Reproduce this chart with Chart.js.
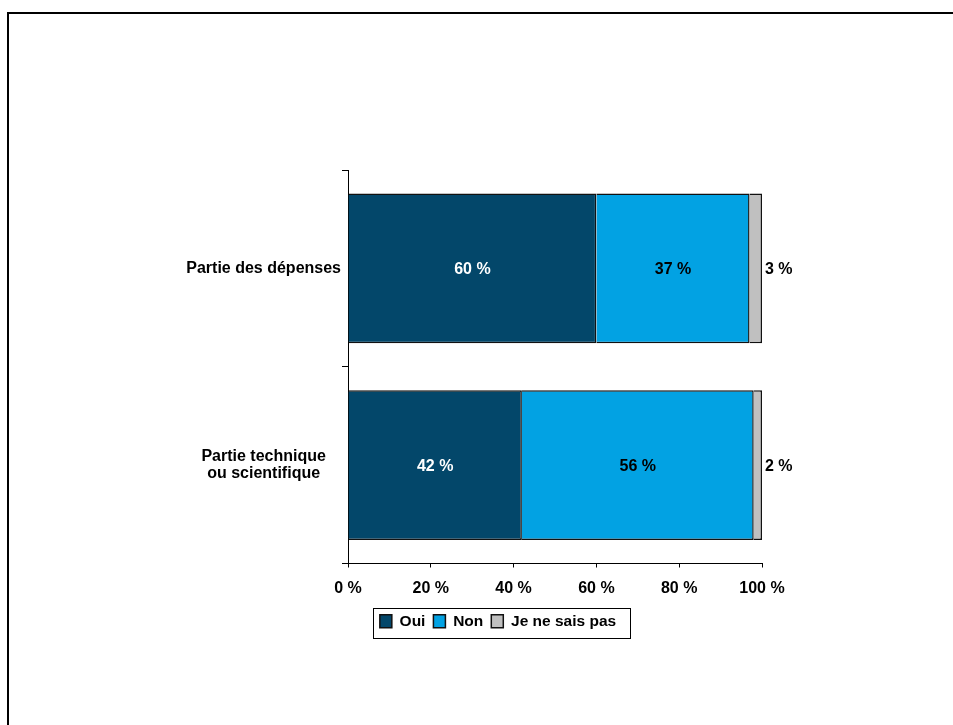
<!DOCTYPE html>
<html>
<head>
<meta charset="utf-8">
<script src="https://cdn.jsdelivr.net/npm/chart.js@4"></script>
<style>
  html, body { margin: 0; padding: 0; background: #fff; overflow: hidden; }
  #frame {
    position: absolute; left: 7px; top: 12px; width: 2000px; height: 2000px;
    border-top: 2px solid #000; border-left: 2px solid #000;
  }
  #wrap { position: absolute; left: 0; top: 0; width: 953px; height: 725px; }
</style>
</head>
<body>
<div id="frame"></div>
<div id="wrap"><canvas id="bar_chart"></canvas></div>
<script>
const categories = ['Partie des dépenses', ['Partie technique', 'ou scientifique']];
const oui = [60, 42];
const non = [37, 56];
const nsp = [3, 2];
const seriesNames = ['Oui', 'Non', 'Je ne sais pas'];

const FONT = '"Liberation Sans", Arial, sans-serif';

// percentage text on each segment, the small one goes outside the bar
const valueLabels = {
    id: 'valueLabels',
    afterDatasetsDraw(chart) {
        const ctx = chart.ctx;
        ctx.save();
        ctx.font = 'bold 16px ' + FONT;
        ctx.textBaseline = 'middle';
        chart.data.datasets.forEach((ds, i) => {
            chart.getDatasetMeta(i).data.forEach((bar, j) => {
                const txt = ds.data[j] + ' %';
                if (i === 2) {
                    ctx.textAlign = 'left';
                    ctx.fillStyle = '#000';
                    ctx.fillText(txt, bar.x + 3, bar.y + 1);
                } else {
                    ctx.textAlign = 'center';
                    ctx.fillStyle = i === 0 ? '#fff' : '#000';
                    ctx.fillText(txt, (bar.x + bar.base) / 2, bar.y + 1);
                }
            });
        });
        ctx.restore();
    }
};

// move the legend a bit right/down and put a box around it
const legendBox = {
    id: 'legendBox',
    afterLayout(chart) {
        const lg = chart.legend;
        const dx = 498 - (lg.left + lg.right) / 2;
        lg.left += dx;
        lg.right += dx;
        lg.top += 2;
        lg.bottom += 2;
    },
    afterDraw(chart) {
        const boxes = chart.legend.legendHitBoxes;
        if (!boxes || !boxes.length) return;
        const l = Math.min(...boxes.map(b => b.left));
        const r = Math.max(...boxes.map(b => b.left + b.width));
        const t = Math.min(...boxes.map(b => b.top));
        const b = Math.max(...boxes.map(b => b.top + b.height));
        const ctx = chart.ctx;
        ctx.save();
        ctx.strokeStyle = '#000';
        ctx.lineWidth = 1;
        ctx.strokeRect(Math.round(l - 7) + 0.5, Math.round(t - 6) + 0.5, Math.round(r - l + 21), Math.round(b - t + 14));
        ctx.restore();
    }
};

const data = {
    labels: categories,
    datasets: [
        { label: seriesNames[0], data: oui, backgroundColor: '#03476A' },
        { label: seriesNames[1], data: non, backgroundColor: '#02A2E3' },
        { label: seriesNames[2], data: nsp, backgroundColor: '#C0C0C0' }
    ].map(d => Object.assign(d, {
        borderColor: '#111',
        borderWidth: 1.5,
        barPercentage: 0.76,
        categoryPercentage: 1
    }))
};

const options = {
    indexAxis: 'y',
    responsive: true,
    maintainAspectRatio: false,
    animation: false,
    layout: {
        padding: { top: 170, left: 0, right: 191, bottom: 88 }
    },
    plugins: {
        tooltip: { enabled: false },
        legend: {
            position: 'bottom',
            labels: {
                boxWidth: 12,
                boxHeight: 13,
                padding: 8,
                color: '#000',
                font: { family: FONT, size: 15.5, weight: 'bold' }
            }
        }
    },
    scales: {
        x: {
            stacked: true,
            min: 0,
            max: 100,
            afterFit: s => { s.height = 40; },
            grid: { drawOnChartArea: false, tickLength: 4, color: '#000' },
            border: { color: '#000', width: 1 },
            ticks: {
                stepSize: 20,
                padding: 11,
                color: '#000',
                font: { family: FONT, size: 16, weight: 'bold' },
                callback: v => v + ' %'
            }
        },
        y: {
            stacked: true,
            afterFit: s => { s.width = 348; },
            grid: { offset: true, drawOnChartArea: false, tickLength: 6, color: '#000' },
            border: { color: '#000', width: 1 },
            ticks: {
                crossAlign: 'center',
                padding: 1,
                color: '#000',
                font: { family: FONT, size: 16, weight: 'bold', lineHeight: 1.05 }
            }
        }
    }
};

new Chart(document.querySelector('#bar_chart'), {
    type: 'bar',
    data: data,
    options: options,
    plugins: [valueLabels, legendBox]
});
</script>
</body>
</html>
